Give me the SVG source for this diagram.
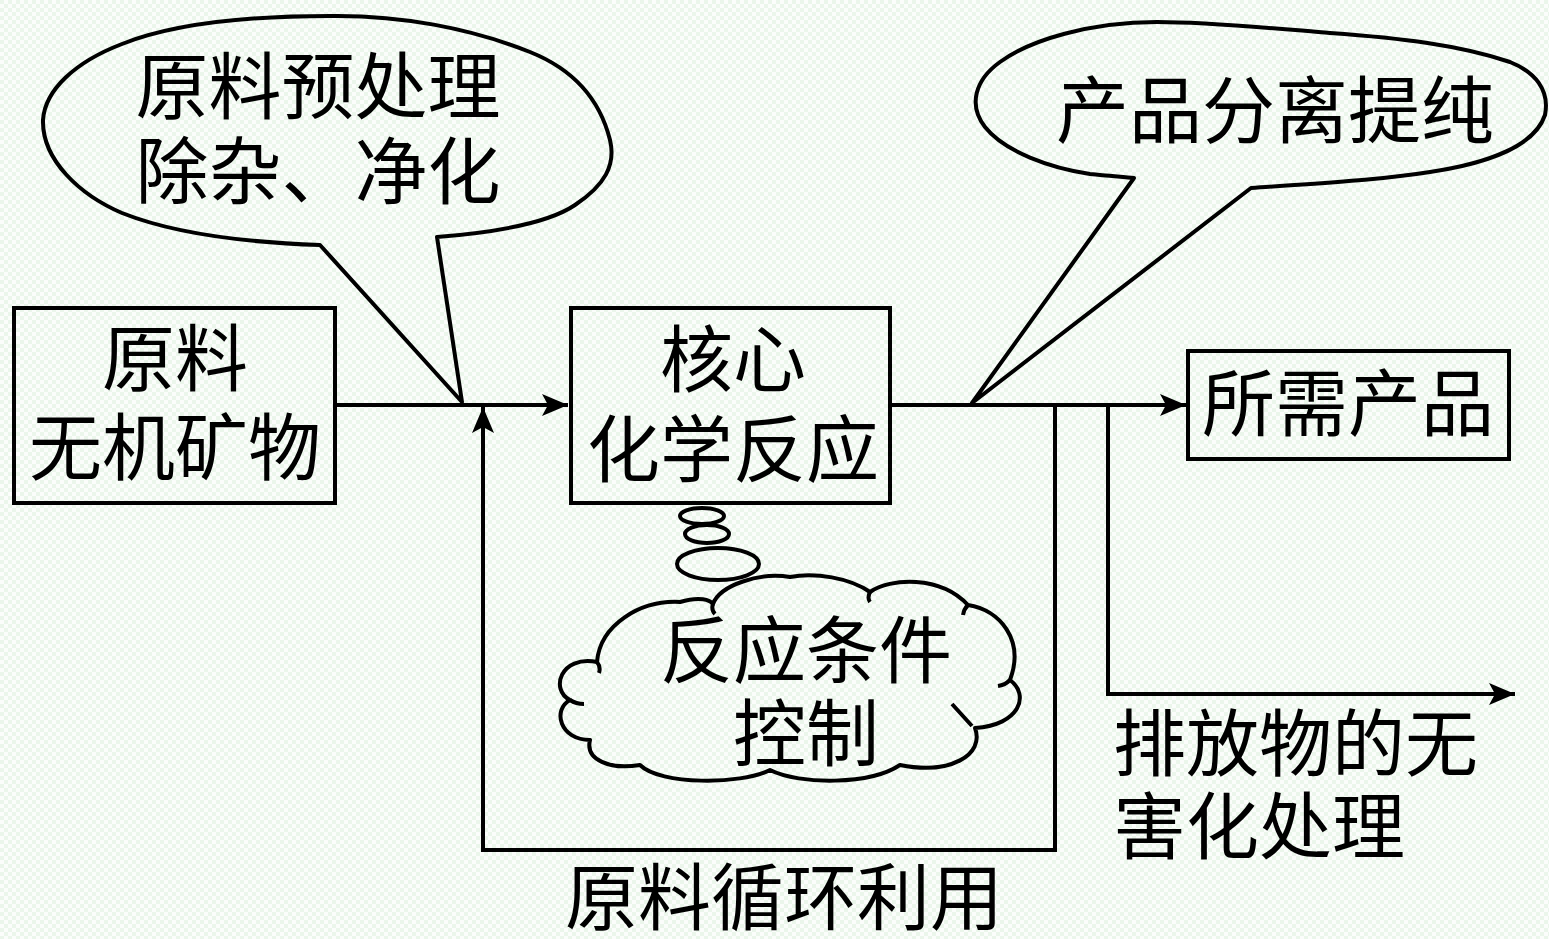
<svg xmlns="http://www.w3.org/2000/svg" width="1549" height="939" viewBox="0 0 1549 939">
<style>
.ln{fill:none;stroke:#000;stroke-width:4;stroke-linejoin:miter}
.sh{fill:none;stroke:#000;stroke-width:4;stroke-linejoin:round}
.t{font-family:"Liberation Serif","Noto Sans CJK SC",serif;font-size:73px;fill:#000}
.m{text-anchor:middle}
</style>
<defs>
<pattern id="bg" width="8" height="8" patternUnits="userSpaceOnUse">
<rect width="8" height="8" fill="#fbfdfb"/>
<rect width="4" height="4" fill="#ebf6eb"/>
<rect x="4" y="4" width="4" height="4" fill="#ebf6eb"/>
</pattern>
<marker id="ar" markerUnits="userSpaceOnUse" markerWidth="30" markerHeight="24" refX="26" refY="11" orient="auto">
<path d="M0,0 L26,11 L0,22 L6,11 Z" fill="#000"/>
</marker>
</defs>
<rect width="1549" height="939" fill="url(#bg)"/>

<g id="connectors">
<path class="ln" d="M336,405 L568,405" marker-end="url(#ar)"/>
<path class="ln" d="M1055,405 L1055,850 L483,850 L483,407" marker-end="url(#ar)"/>
<path class="ln" d="M890,405 L1186,405" marker-end="url(#ar)"/>
<path class="ln" d="M1108,405 L1108,694 L1515,694" marker-end="url(#ar)"/>
</g>

<g id="raw">
<rect class="ln" x="14" y="308" width="321" height="195"/>
<text class="t m" x="175" y="385">原料</text>
<text class="t m" x="175" y="474">无机矿物</text>
</g>

<g id="reaction">
<rect class="ln" x="571" y="308" width="319" height="195"/>
<text class="t m" x="733" y="386">核心</text>
<text class="t m" x="733" y="476">化学反应</text>
</g>

<g id="product">
<rect class="ln" x="1188" y="351" width="321" height="108"/>
<text class="t m" x="1348" y="430">所需产品</text>
</g>

<g id="pretreat">
<path class="sh" d="M437,237 C500,232 550,222 575,205 C605,185 616,165 610,140 C600,100 575,70 530,52 C470,28 400,15 330,16 C240,16 170,25 122,44 C75,62 45,90 43,120 C42,160 80,195 122,213 C180,236 260,243 320,245 L462,402 Z"/>
<text class="t m" x="318" y="113">原料预处理</text>
<text class="t m" x="318" y="198">除杂、净化</text>
</g>

<g id="separation">
<path class="sh" d="M1251,188 C1320,183 1380,180 1430,172 C1490,163 1535,145 1545,115 C1550,90 1535,72 1510,62 C1460,45 1400,38 1330,33 C1270,28 1210,22 1157,22 C1090,22 1030,40 1000,62 C975,80 968,105 985,127 C1005,152 1050,168 1090,174 C1110,176 1125,177 1134,178 L972,403 Z"/>
<text class="t m" x="1275" y="137">产品分离提纯</text>
</g>

<g id="conditions">
<ellipse class="sh" cx="702" cy="516" rx="22" ry="8"/>
<ellipse class="sh" cx="707" cy="534" rx="22" ry="9"/>
<ellipse class="sh" cx="718" cy="564" rx="41" ry="16"/>
<path class="sh" d="M590,740 C560,740 552,710 570,700 C550,690 560,655 597,662 C600,625 640,600 680,602 C700,596 710,600 713,604 C720,585 760,572 790,577 C815,572 850,578 870,592 C890,578 940,575 968,605 C1000,610 1025,640 1010,680 C1030,695 1020,725 975,728 C985,755 950,775 900,765 C870,785 800,785 770,770 C740,785 660,785 640,765 C610,770 585,760 590,740 Z"/>
<path class="sh" d="M597,662 q4,5 2,11 M713,604 q-2,6 2,10 M870,592 q-3,6 0,10 M968,605 q-4,4 -5,10 M1010,680 q-5,5 -12,6 M952,704 L972,726 M570,700 q6,4 14,4"/>
<text class="t m" x="806" y="677">反应条件</text>
<text class="t m" x="806" y="760">控制</text>
</g>

<g id="labels">
<text class="t" x="1113" y="770">排放物的无</text>
<text class="t" x="1113" y="853">害化处理</text>
<text class="t m" x="784" y="924">原料循环利用</text>
</g>
</svg>
